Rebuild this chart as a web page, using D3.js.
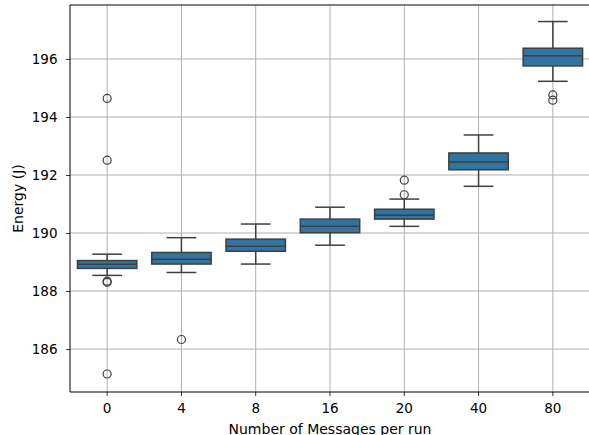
<!DOCTYPE html>
<html>
<head>
<meta charset="utf-8">
<script src="https://cdn.jsdelivr.net/npm/d3@7"></script>
<style>
  html, body { margin: 0; padding: 0; background: #fff; overflow: hidden; }
  svg { display: block; font-family: "DejaVu Sans", sans-serif; }
</style>
</head>
<body>
<svg id="chart" width="589" height="435"></svg>
<script>
const categories = ["0", "4", "8", "16", "20", "40", "80"];
const whiskerLow  = [188.54, 188.64, 188.93, 189.58, 190.23, 191.61, 195.23];
const q1          = [188.78, 188.93, 189.37, 190.01, 190.48, 192.18, 195.76];
const median      = [188.92, 189.10, 189.54, 190.23, 190.61, 192.45, 196.11];
const q3          = [189.05, 189.33, 189.79, 190.48, 190.82, 192.76, 196.37];
const whiskerHigh = [189.27, 189.84, 190.31, 190.89, 191.17, 193.38, 197.29];
const outliers    = [
  [194.64, 192.51, 188.34, 188.30, 185.14],
  [186.33],
  [],
  [],
  [191.82, 191.32],
  [],
  [194.76, 194.58]
];
const yTicks = [186, 188, 190, 192, 194, 196];

const svg = d3.select("#chart");
const pLeft = 70, pRight = 590, pTop = 5, pBottom = 392;

const x = d3.scaleBand().domain(categories).range([pLeft, pRight]).padding(0);
const y = d3.scaleLinear().domain([184.52, 197.86]).range([pBottom, pTop]);

const boxW = x.bandwidth() * 0.8;
const capW = boxW * 0.5;
const fill = "#3274a1";
const lineC = "#3f3f3f";

// grid
const grid = svg.append("g");
grid.selectAll("line.gy").data(yTicks).join("line")
  .attr("x1", pLeft).attr("x2", pRight)
  .attr("y1", d => y(d)).attr("y2", d => y(d))
  .attr("stroke", "#b0b0b0").attr("stroke-width", 1);
grid.selectAll("line.gx").data(categories).join("line")
  .attr("x1", d => x(d) + x.bandwidth() / 2).attr("x2", d => x(d) + x.bandwidth() / 2)
  .attr("y1", pTop).attr("y2", pBottom)
  .attr("stroke", "#b0b0b0").attr("stroke-width", 1);

// boxes
const data = categories.map((c, i) => ({
  c, lo: whiskerLow[i], q1: q1[i], med: median[i], q3: q3[i], hi: whiskerHigh[i], out: outliers[i]
}));
const g = svg.append("g");
const bx = g.selectAll("g.box").data(data).join("g");
const cx = d => x(d.c) + x.bandwidth() / 2;

bx.append("line").attr("x1", cx).attr("x2", cx)
  .attr("y1", d => y(d.q3)).attr("y2", d => y(d.hi))
  .attr("stroke", lineC).attr("stroke-width", 1.5);
bx.append("line").attr("x1", cx).attr("x2", cx)
  .attr("y1", d => y(d.q1)).attr("y2", d => y(d.lo))
  .attr("stroke", lineC).attr("stroke-width", 1.5);
bx.append("line").attr("x1", d => cx(d) - capW / 2).attr("x2", d => cx(d) + capW / 2)
  .attr("y1", d => y(d.hi)).attr("y2", d => y(d.hi))
  .attr("stroke", lineC).attr("stroke-width", 1.5);
bx.append("line").attr("x1", d => cx(d) - capW / 2).attr("x2", d => cx(d) + capW / 2)
  .attr("y1", d => y(d.lo)).attr("y2", d => y(d.lo))
  .attr("stroke", lineC).attr("stroke-width", 1.5);
bx.append("rect")
  .attr("x", d => cx(d) - boxW / 2).attr("width", boxW)
  .attr("y", d => y(d.q3)).attr("height", d => y(d.q1) - y(d.q3))
  .attr("fill", fill).attr("stroke", lineC).attr("stroke-width", 1.5);
bx.append("line").attr("x1", d => cx(d) - boxW / 2).attr("x2", d => cx(d) + boxW / 2)
  .attr("y1", d => y(d.med)).attr("y2", d => y(d.med))
  .attr("stroke", lineC).attr("stroke-width", 1.5);
bx.selectAll("circle").data(d => d.out.map(v => ({ c: d.c, v }))).join("circle")
  .attr("cx", cx).attr("cy", d => y(d.v)).attr("r", 4)
  .attr("fill", "none").attr("stroke", lineC).attr("stroke-width", 1.2);

// axes
const yAxis = d3.axisLeft(y).tickValues(yTicks).tickSize(4).tickPadding(8.5).tickFormat(d3.format("d"));
const xAxis = d3.axisBottom(x).tickSize(4).tickPadding(7.5);

const ya = svg.append("g").attr("transform", `translate(${pLeft},0)`).call(yAxis);
const xa = svg.append("g").attr("transform", `translate(0,${pBottom})`).call(xAxis);
[ya, xa].forEach(a => {
  a.select(".domain").remove();
  a.selectAll(".tick line").attr("stroke", "#000").attr("stroke-width", 0.8);
  a.selectAll(".tick text").attr("fill", "#000").style("font-size", "13.5px").style("font-family", "DejaVu Sans");
});

// spines
svg.append("line").attr("x1", pLeft).attr("x2", pLeft).attr("y1", pTop).attr("y2", pBottom)
  .attr("stroke", "#000").attr("stroke-width", 1);
svg.append("line").attr("x1", pLeft).attr("x2", pRight).attr("y1", pBottom).attr("y2", pBottom)
  .attr("stroke", "#000").attr("stroke-width", 1);
svg.append("line").attr("x1", pLeft).attr("x2", pRight).attr("y1", pTop).attr("y2", pTop)
  .attr("stroke", "#000").attr("stroke-width", 1);

// titles
svg.append("text").attr("x", (pLeft + pRight) / 2).attr("y", 433.5)
  .attr("text-anchor", "middle").style("font-size", "14px").attr("fill", "#000")
  .text("Number of Messages per run");
svg.append("text").attr("transform", `translate(22.5,${(pTop + pBottom) / 2}) rotate(-90)`)
  .attr("text-anchor", "middle").style("font-size", "14px").attr("fill", "#000")
  .text("Energy (J)");
</script>
</body>
</html>
